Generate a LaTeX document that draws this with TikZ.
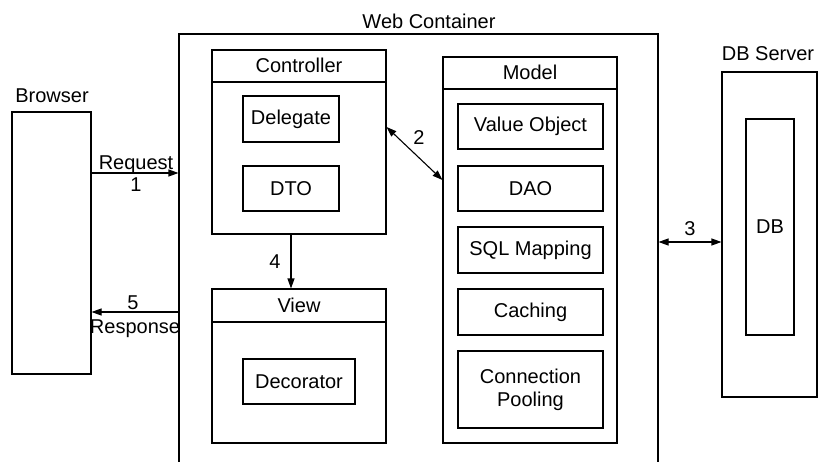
\documentclass[tikz,border=0pt]{standalone}
\usepackage{fontspec}
\setmainfont{Liberation Sans}
\usetikzlibrary{arrows.meta,positioning}

\tikzset{
  box/.style={draw, line width=1.1pt, inner sep=0pt, align=center},
  lbl/.style={anchor=base, inner sep=0pt},
  link/.style={line width=1.1pt, -{Triangle[length=10pt,width=7pt]}},
  both/.style={line width=1.1pt, {Triangle[length=10pt,width=7pt]}-{Triangle[length=10pt,width=7pt]}},
}

\begin{document}
\begin{tikzpicture}[x = 1pt, y = -1pt, every node/.style={font=\fontsize{20}{23}\selectfont}]
\useasboundingbox (0,0) rectangle (818,462);

% browser
\node[lbl] (browserT) at (52,103) {Browser};
\node[box, minimum width=79pt, minimum height=262pt] (browser) at (51.5,243) {};

% web container
\node[lbl] (webT) at (429,29) {Web Container};
\node[box, minimum width=479pt, minimum height=436pt] (web) at (418.5,252) {};

% controller
\node[box, minimum width=174pt, minimum height=184pt] (ctrl) at (299,142) {};
\node[lbl] (ctrlT) at (299,73) {Controller};
\draw[line width=1.1pt] (ctrl.west |- 0,82) -- (ctrl.east |- 0,82);
\node[box, minimum width=96pt, minimum height=46pt] (deleg) at (291,119) {Delegate};
\node[box, minimum width=96pt, minimum height=45pt] (dto) at (291,188.5) {DTO};

% view
\node[box, minimum width=174pt, minimum height=154pt] (view) at (299,366) {};
\node[lbl] (viewT) at (299,312) {View};
\draw[line width=1.1pt] (view.west |- 0,322) -- (view.east |- 0,322);
\node[box, minimum width=112pt, minimum height=45pt] (deco) at (299,381.5) {Decorator};

% model
\node[box, minimum width=174pt, minimum height=386pt] (model) at (530,250) {};
\node[lbl] (modelT) at (530,80) {Model};
\draw[line width=1.1pt] (model.west |- 0,89) -- (model.east |- 0,89);
\node[box, minimum width=145pt, minimum height=45pt] (vo) at (530.5,126.5) {Value Object};
\node[box, minimum width=145pt, minimum height=45pt] (dao) at (530.5,188.5) {DAO};
\node[box, minimum width=145pt, minimum height=46pt] (sql) at (530.5,250) {SQL Mapping};
\node[box, minimum width=145pt, minimum height=46pt] (cach) at (530.5,312) {Caching};
\node[box, minimum width=145pt, minimum height=77pt] (pool) at (530.5,389.5) {Connection\\Pooling};

% db server
\node[lbl] (dbsrvT) at (768,61) {DB Server};
\node[box, minimum width=95pt, minimum height=325pt] (dbsrv) at (769.5,234.5) {};
\node[box, minimum width=48pt, minimum height=216pt] (db) at (770,227) {DB};

% request / response
\draw[link] (browser.east |- 0,173) -- (web.west |- 0,173);
\node[lbl] (reqT) at (136,170) {Request};
\node[lbl] (reqN) at (136,192) {1};
\draw[link] (web.west |- 0,312) -- (browser.east |- 0,312);
\node[lbl] (resN) at (133,309) {5};
\node[lbl] (resT) at (135,333) {Response};

% controller to view
\draw[link] (ctrl.south -| 291,0) -- (view.north -| 291,0);
\node[lbl] (fourN) at (275,268) {4};

% controller <-> model
\draw[both] (ctrl.east |- 0,127) -- (model.west |- 0,180);
\node[lbl] (twoN) at (419,145) {2};

% web <-> db server
\draw[both] (web.east |- 0,242) -- (dbsrv.west |- 0,242);
\node[lbl] (threeN) at (690,236) {3};
\end{tikzpicture}
\end{document}
